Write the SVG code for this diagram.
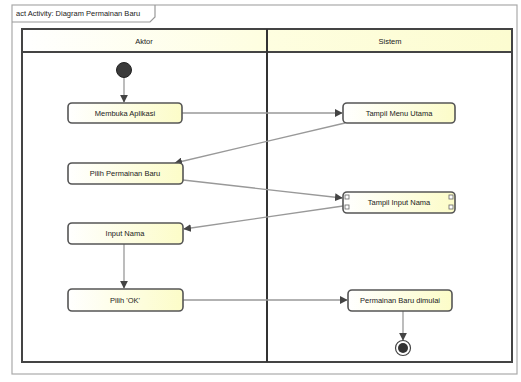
<svg xmlns="http://www.w3.org/2000/svg" width="521" height="382" viewBox="0 0 521 382">
<defs>
<linearGradient id="nf" x1="0" y1="0" x2="1" y2="0">
<stop offset="0" stop-color="#ffffff"/>
<stop offset="1" stop-color="#fcfcc8"/>
</linearGradient>
<linearGradient id="hf" x1="0" y1="0" x2="1" y2="0">
<stop offset="0" stop-color="#ffffff"/>
<stop offset="0.5" stop-color="#fefee0"/>
<stop offset="1" stop-color="#fcfcd0"/>
</linearGradient>
<marker id="arr" viewBox="0 0 10 10" refX="9" refY="5" markerWidth="6" markerHeight="6" orient="auto">
<path d="M0,0 L10,5 L0,10 z" fill="#444"/>
</marker>
<style>
.node{fill:url(#nf);stroke:#555;stroke-width:1.6}
.t{font-family:"Liberation Sans",Arial,sans-serif;font-size:7.5px;fill:#222;text-anchor:middle}
.e{fill:none;stroke:#999;stroke-width:1.3;marker-end:url(#arr)}
.lane{fill:none;stroke:#444;stroke-width:2}
.pin{fill:#fff;stroke:#666;stroke-width:0.8}
</style>
</defs>
<rect width="521" height="382" fill="#fff"/>
<g id="frame">
<rect x="12" y="5" width="505" height="369" fill="none" stroke="#aaa" stroke-width="1.2"/>
<path d="M12,22 H150 L155,17 V5" fill="none" stroke="#999" stroke-width="1.2"/>
<text x="16" y="16" font-family="Liberation Sans,Arial,sans-serif" font-size="7.5" fill="#222">act Activity: Diagram Permainan Baru</text>
</g>
<g id="swimlanes">
<rect x="22" y="29" width="490" height="23" fill="url(#hf)"/>
<rect x="22" y="29" width="490" height="333" class="lane"/>
<line x1="22" y1="52" x2="512" y2="52" stroke="#444" stroke-width="2"/>
<line x1="267" y1="29" x2="267" y2="362" stroke="#333" stroke-width="2"/>
<text class="t" x="144" y="44">Aktor</text>
<text class="t" x="390" y="44">Sistem</text>
</g>
<g id="connectors">
<line class="e" x1="124" y1="77" x2="124" y2="102"/>
<line class="e" x1="182" y1="113" x2="342" y2="113"/>
<line class="e" x1="345" y1="123" x2="175" y2="163"/>
<line class="e" x1="183" y1="180" x2="342" y2="198"/>
<line class="e" x1="343" y1="206" x2="184" y2="229"/>
<line class="e" x1="124" y1="244" x2="124" y2="288"/>
<line class="e" x1="183" y1="300" x2="347" y2="300"/>
<line class="e" x1="403" y1="311" x2="403" y2="340"/>
</g>
<g id="start">
<circle cx="124" cy="70" r="7.5" fill="#3a3a3a" stroke="#222"/>
</g>
<g id="n1">
<rect class="node" x="68" y="103" width="114" height="20" rx="4"/>
<text class="t" x="125" y="116">Membuka Aplikasi</text>
</g>
<g id="n2">
<rect class="node" x="68" y="163" width="115" height="21" rx="4"/>
<text class="t" x="125" y="176">Pilih Permainan Baru</text>
</g>
<g id="n3">
<rect class="node" x="68" y="223" width="115" height="21" rx="4"/>
<text class="t" x="125" y="236">Input Nama</text>
</g>
<g id="n4">
<rect class="node" x="68" y="289" width="115" height="22" rx="4"/>
<text class="t" x="125" y="303">Pilih 'OK'</text>
</g>
<g id="n5">
<rect class="node" x="343" y="103" width="112" height="20" rx="4"/>
<text class="t" x="399" y="116">Tampil Menu Utama</text>
</g>
<g id="n6">
<rect class="node" x="343" y="192" width="112" height="21" rx="4"/>
<rect class="pin" x="345" y="195" width="4" height="4"/>
<rect class="pin" x="345" y="205" width="4" height="4"/>
<rect class="pin" x="449" y="195" width="4" height="4"/>
<rect class="pin" x="449" y="205" width="4" height="4"/>
<text class="t" x="399" y="205">Tampil Input Nama</text>
</g>
<g id="n7">
<rect class="node" x="348" y="290" width="104" height="21" rx="4"/>
<text class="t" x="400" y="303">Permainan Baru dimulai</text>
</g>
<g id="end">
<circle cx="403" cy="348" r="7.5" fill="#fff" stroke="#444" stroke-width="1.2"/>
<circle cx="403" cy="348" r="5" fill="#333"/>
</g>
</svg>
